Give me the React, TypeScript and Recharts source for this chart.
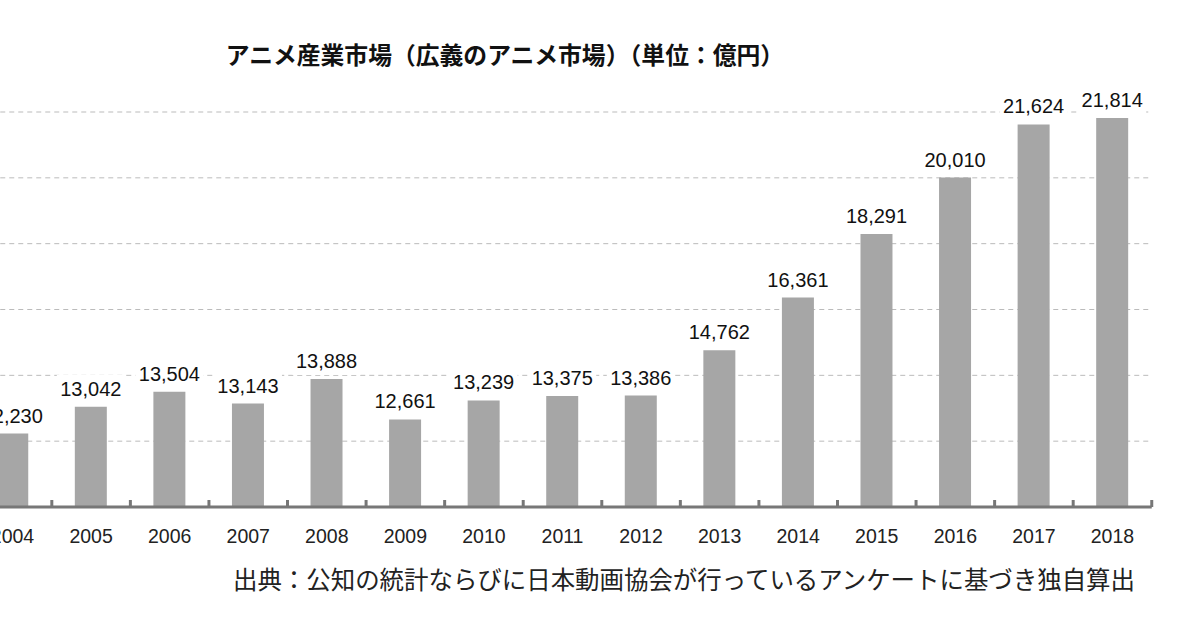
import { BarChart, Bar, XAxis, YAxis, CartesianGrid, LabelList } from "recharts"

const years = ["2004", "2005", "2006", "2007", "2008", "2009", "2010", "2011", "2012", "2013", "2014", "2015", "2016", "2017", "2018"]
const marketValues = [12230, 13042, 13504, 13143, 13888, 12661, 13239, 13375, 13386, 14762, 16361, 18291, 20010, 21624, 21814]
const yTicks = [10000, 12000, 14000, 16000, 18000, 20000, 22000]

const titleText = "アニメ産業市場（広義のアニメ市場）（単位：億円）"
const sourceText = "出典：公知の統計ならびに日本動画協会が行っているアンケートに基づき独自算出"

const data = years.map((year, i) => ({ year, value: marketValues[i] }))

const FONT = "'Noto Sans CJK JP', 'Noto Sans', sans-serif"
const NUM_FONT = "'Liberation Sans', Arial, sans-serif"
const PLOT_W = 1178.5
const HALF_BAND = PLOT_W / years.length / 2

function YearTick(props: any) {
  const { x, y, payload } = props
  return (
    <g>
      <line x1={x + HALF_BAND} x2={x + HALF_BAND} y1={y} y2={y - 7} stroke="#777" strokeWidth={3} />
      <text x={x} y={y + 29} textAnchor="middle" dominantBaseline="central" fontSize={19.5} fill="#222" fontFamily={NUM_FONT}>
        {payload.value}
      </text>
    </g>
  )
}

function ValueLabel(props: any) {
  const { x, y, width, value } = props
  const cx = x + width / 2
  return (
    <g>
      <rect x={cx - 34} y={y - 32} width={68} height={28} fill="#fff" />
      <text x={cx} y={y - 18} textAnchor="middle" dominantBaseline="central" fontSize={20} fill="#111" fontFamily={NUM_FONT}>
        {Number(value).toLocaleString("en-US")}
      </text>
    </g>
  )
}

function App() {
  return (
    <div style={{ position: "absolute", left: 0, top: 0, width: 1200, height: 630, overflow: "hidden", background: "#fff" }}>
      <div style={{ position: "absolute", left: 0, top: 36, width: 1010, textAlign: "center", fontFamily: FONT, fontWeight: 700, fontSize: 23.8, color: "#111", whiteSpace: "nowrap" }}>
        {titleText}
      </div>
      <BarChart
        width={1240}
        height={630}
        data={data}
        margin={{ top: 112, right: 48.25, left: 13.25, bottom: 83 }}
        style={{ position: "absolute", left: -40, top: 0 }}
      >
        <CartesianGrid vertical={false} stroke="#bbb" strokeDasharray="5 4" />
        <YAxis hide width={0} domain={[10000, 22000]} ticks={yTicks} />
        <XAxis
          dataKey="year"
          height={40}
          tickSize={0}
          tickMargin={0}
          tickLine={false}
          axisLine={{ stroke: "#777", strokeWidth: 3 }}
          tick={<YearTick />}
          interval={0}
        />
        <Bar dataKey="value" fill="#a6a6a6" barSize={32} isAnimationActive={false}>
          <LabelList dataKey="value" content={<ValueLabel />} />
        </Bar>
      </BarChart>
      <div style={{ position: "absolute", left: 233, top: 561, fontFamily: FONT, fontSize: 24.45, color: "#222", whiteSpace: "nowrap" }}>
        {sourceText}
      </div>
    </div>
  )
}

export default App
